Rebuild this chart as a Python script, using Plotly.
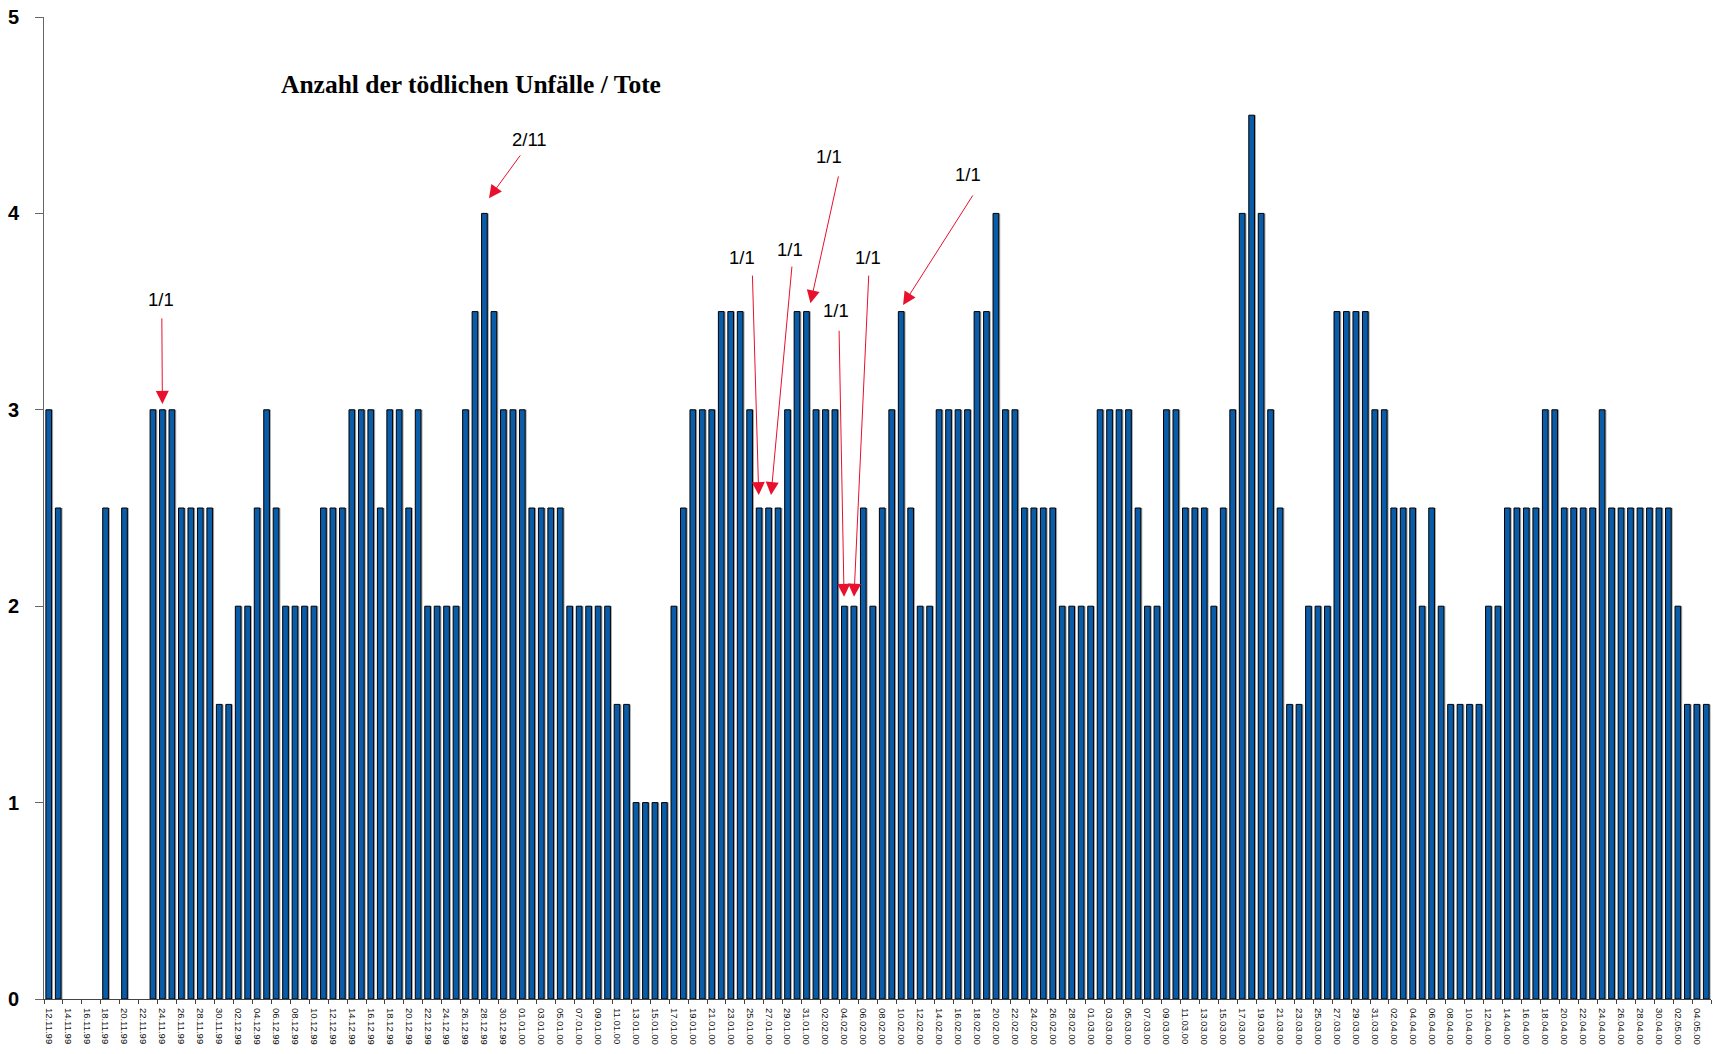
import plotly.graph_objects as go
import pandas as pd

# ---- data -----------------------------------------------------------------
# daily categories 12.11.99 .. 05.05.00
dates = pd.date_range("1999-11-12", "2000-05-05", freq="D")
date_labels = [d.strftime("%d.%m.%y") for d in dates]

nov_99 = [3, 2.5, 0, 0, 0, 0, 2.5, 0, 2.5, 0, 0, 3, 3, 3, 2.5, 2.5, 2.5, 2.5, 1.5]
dec_99 = [1.5, 2, 2, 2.5, 3, 2.5, 2, 2, 2, 2, 2.5, 2.5, 2.5, 3, 3, 3, 2.5, 3, 3, 2.5,
          3, 2, 2, 2, 2, 3, 3.5, 4, 3.5, 3, 3]
jan_00 = [3, 2.5, 2.5, 2.5, 2.5, 2, 2, 2, 2, 2, 1.5, 1.5, 1, 1, 1, 1, 2, 2.5, 3, 3,
          3, 3.5, 3.5, 3.5, 3, 2.5, 2.5, 2.5, 3, 3.5, 3.5]
feb_00 = [3, 3, 3, 2, 2, 2.5, 2, 2.5, 3, 3.5, 2.5, 2, 2, 3, 3, 3, 3, 3.5, 3.5, 4,
          3, 3, 2.5, 2.5, 2.5, 2.5, 2, 2, 2]
mar_00 = [2, 3, 3, 3, 3, 2.5, 2, 2, 3, 3, 2.5, 2.5, 2.5, 2, 2.5, 3, 4, 4.5, 4, 3,
          2.5, 1.5, 1.5, 2, 2, 2, 3.5, 3.5, 3.5, 3.5, 3]
apr_00 = [3, 2.5, 2.5, 2.5, 2, 2.5, 2, 1.5, 1.5, 1.5, 1.5, 2, 2, 2.5, 2.5, 2.5, 2.5,
          3, 3, 2.5, 2.5, 2.5, 2.5, 3, 2.5, 2.5, 2.5, 2.5, 2.5, 2.5]
may_00 = [2.5, 2, 1.5, 1.5, 1.5]

values = nov_99 + dec_99 + jan_00 + feb_00 + mar_00 + apr_00 + may_00

y_ticks = [0, 1, 2, 3, 4, 5]

title_text = "Anzahl der tödlichen Unfälle / Tote"

# annotation labels: (text, target date, text pos x/y, arrow tail x/y, tip offset)
ann_labels = ["1/1", "2/11", "1/1", "1/1", "1/1", "1/1", "1/1", "1/1"]
ann_dates = ["24.11.99", "28.12.99", "26.01.00", "27.01.00", "31.01.00",
             "04.02.00", "05.02.00", "10.02.00"]
ann_text_x = [11.88, 50.77, 73.2, 78.23, 82.38, 83.09, 86.5, 97.06]
ann_text_y = [3.56, 4.374, 3.774, 3.817, 4.289, 3.508, 3.774, 4.196]
ann_tail_x = [11.94, 49.9, 74.29, 78.48, 83.41, 83.44, 86.58, 97.66]
ann_tail_y = [3.473, 4.303, 3.691, 3.737, 4.196, 3.41, 3.691, 4.099]
ann_tip_dx = [0.0, 0.48, -0.04, 0.26, 0.42, -0.03, 0.02, 0.2]
ann_tip_dy = [0.03, 0.077, 0.066, 0.066, 0.042, 0.048, 0.048, 0.034]

# ---- figure -----------------------------------------------------------------
n = len(values)
idx = list(range(n))
BAR_COLOR = "#0a5ca8"
RED = "#e8102c"
FONT = "Liberation Sans, Arial, sans-serif"

fig = go.Figure()
# soft grey drop shadow to the right of each bar
fig.add_trace(go.Bar(
    x=idx, y=values,
    marker=dict(color="#a8a8a8", line=dict(width=0)),
    width=0.6, offset=-0.3 + 0.16,
    hoverinfo="skip", showlegend=False,
))
fig.add_trace(go.Bar(
    x=idx, y=values,
    marker=dict(color=BAR_COLOR,
                line=dict(color="#000000", width=[1 if v > 0 else 0 for v in values])),
    width=0.6, offset=-0.3,
    hovertext=date_labels,
    showlegend=False,
))
# invisible trace that carries the boundary-tick axis
fig.add_trace(go.Scatter(x=[], y=[], xaxis="x2", yaxis="y", showlegend=False))

annotations = []
annotations.append(dict(
    text=f"<b>{title_text}</b>", x=44.62, y=4.654, xref="x", yref="y",
    showarrow=False, font=dict(family="Liberation Serif, Times New Roman, serif",
                               size=25.5, color="#000000"),
    xanchor="center", yanchor="middle"))
for lab, d, tx, ty, ax, ay, dx, dy in zip(ann_labels, ann_dates, ann_text_x, ann_text_y,
                                         ann_tail_x, ann_tail_y, ann_tip_dx, ann_tip_dy):
    i = date_labels.index(d)
    annotations.append(dict(
        text=lab, x=tx, y=ty, xref="x", yref="y", showarrow=False,
        font=dict(family=FONT, size=18.5, color="#000000"),
        xanchor="center", yanchor="middle"))
    annotations.append(dict(
        text="", x=i + dx, y=values[i] + dy, xref="x", yref="y",
        ax=ax, ay=ay, axref="x", ayref="y",
        showarrow=True, arrowhead=2, arrowsize=2.6, arrowwidth=1,
        arrowcolor=RED, standoff=0, startstandoff=0))

fig.update_layout(
    width=1724, height=1054,
    margin=dict(l=44, r=13, t=17, b=55, pad=0, autoexpand=False),
    plot_bgcolor="white", paper_bgcolor="white",
    barmode="overlay",
    font=dict(family=FONT, color="#000000"),
    xaxis=dict(
        range=[-0.5, n - 0.5],
        tickmode="array",
        tickvals=idx[::2],
        ticktext=date_labels[::2],
        tickangle=90,
        tickfont=dict(family=FONT, size=9.5, color="#111111"),
        ticks="",
        showline=True, linecolor="#444444", linewidth=1,
        showgrid=False, zeroline=False,
        ticklabelstandoff=6,
        ticklabeloverflow="allow",
        automargin=False,
    ),
    xaxis2=dict(
        overlaying="x", anchor="y", side="bottom",
        range=[-0.5, n - 0.5],
        tickmode="array",
        tickvals=[i - 0.5 for i in range(0, n + 1, 2)],
        ticktext=["" for _ in range(0, n + 1, 2)],
        ticks="outside", ticklen=4, tickcolor="#444444", tickwidth=1,
        showline=False, showgrid=False, zeroline=False,
        automargin=False,
    ),
    yaxis=dict(
        range=[0, 5],
        tickmode="array",
        tickvals=y_ticks,
        ticktext=[f"<b>{t}</b>" for t in y_ticks],
        tickfont=dict(family=FONT, size=20, color="#000000"),
        ticks="outside", ticklen=8, tickcolor="#666666", tickwidth=1,
        showline=True, linecolor="#666666", linewidth=1,
        showgrid=False, zeroline=False,
        ticklabelstandoff=12,
        ticklabeloverflow="allow",
        automargin=False,
    ),
    annotations=annotations,
)

# remove the browser's default 8 px body margin so the figure fills the window
fig.write_html(
    "out.html",
    config={"displayModeBar": False},
    post_script="document.body.style.margin='0';document.body.style.overflow='hidden';",
)
